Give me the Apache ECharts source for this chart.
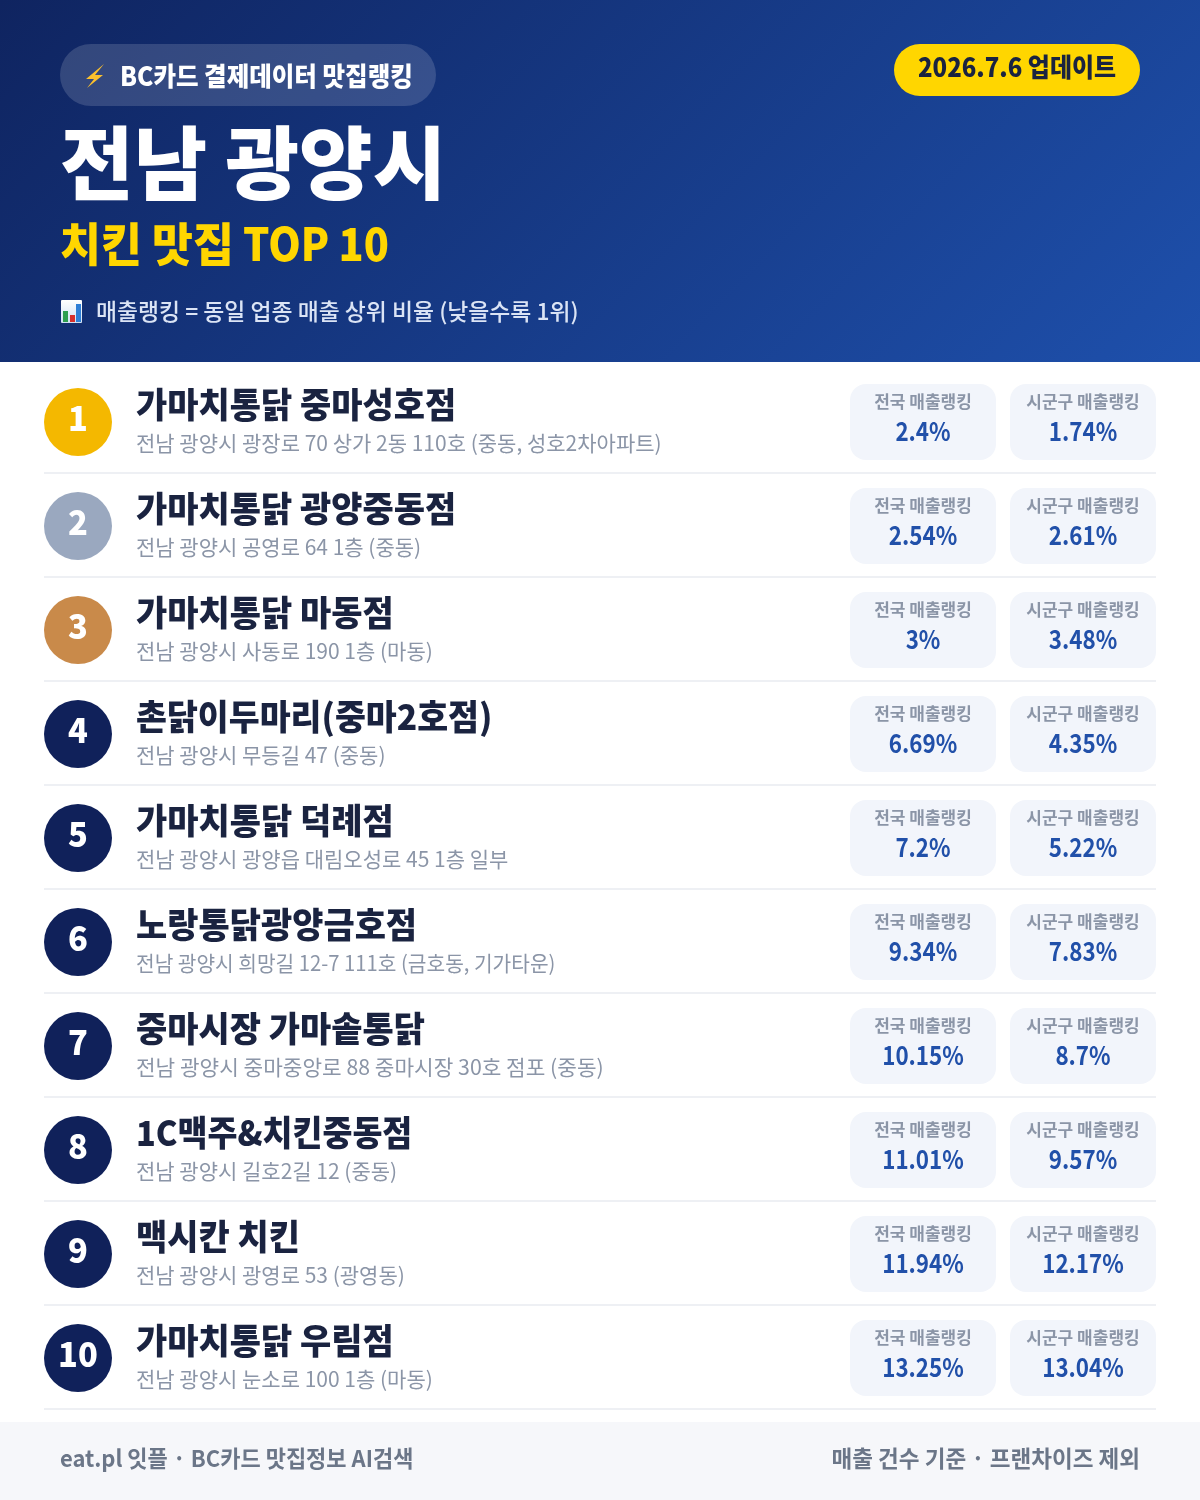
<!DOCTYPE html>
<html>
<head>
<meta charset="utf-8">
<style>html,body{margin:0;padding:0;background:#fff}#main{width:1200px;height:1500px}</style>
<script src="https://cdn.jsdelivr.net/npm/echarts@6/dist/echarts.min.js"></script>
</head>
<body>
<div id="main"></div>
<script>
const ranks = [1, 2, 3, 4, 5, 6, 7, 8, 9, 10];
const shopNames = ['가마치통닭 중마성호점', '가마치통닭 광양중동점', '가마치통닭 마동점', '촌닭이두마리(중마2호점)', '가마치통닭 덕례점', '노랑통닭광양금호점', '중마시장 가마솥통닭', '1C맥주&치킨중동점', '맥시칸 치킨', '가마치통닭 우림점'];
const addresses = ['전남 광양시 광장로 70 상가 2동 110호 (중동, 성호2차아파트)', '전남 광양시 공영로 64 1층 (중동)', '전남 광양시 사동로 190 1층 (마동)', '전남 광양시 무등길 47 (중동)', '전남 광양시 광양읍 대림오성로 45 1층 일부', '전남 광양시 희망길 12-7 111호 (금호동, 기가타운)', '전남 광양시 중마중앙로 88 중마시장 30호 점포 (중동)', '전남 광양시 길호2길 12 (중동)', '전남 광양시 광영로 53 (광영동)', '전남 광양시 눈소로 100 1층 (마동)'];
const nationalRank = [2.4, 2.54, 3, 6.69, 7.2, 9.34, 10.15, 11.01, 11.94, 13.25];
const localRank = [1.74, 2.61, 3.48, 4.35, 5.22, 7.83, 8.7, 9.57, 12.17, 13.04];
const medalColors = ['#f4b800', '#9aa8bf', '#c98a4a'];

const FONT = '"Noto Sans CJK KR", "Noto Sans", sans-serif';
const NAVY = '#10215a';

function txt(x, y, text, size, weight, fill, align, sx) {
    return {
        type: 'text', x: x, y: y, scaleX: sx || 1, silent: true,
        style: {
            x: 0, y: 0, text: text, fontSize: size, fontWeight: weight, fontFamily: FONT,
            fill: fill, align: align || 'left', verticalAlign: 'middle'
        }
    };
}

function rect(x, y, w, h, r, fill) {
    return { type: 'rect', silent: true, shape: { x: x, y: y, width: w, height: h, r: r }, style: { fill: fill } };
}

function nameFit(name) {
    // names starting with latin/digits run wider in this font
    return /^\d/.test(name) ? 0.93 : (name.indexOf('(') >= 0 ? 0.96 : 0.97);
}

function addressFit(i) {
    return i === 5 ? 0.965 : (i === 6 ? 1.015 : 1);
}

function renderRow(params, api) {
    let i = params.dataIndex;
    let cy = api.coord([0, i])[1];
    let px = (v) => api.coord([v, i])[0];
    let kids = [
        { type: 'circle', shape: { cx: px(78), cy: cy, r: 34 }, style: { fill: medalColors[i] || NAVY } },
        txt(px(78), cy - 4, String(ranks[i]), 34, 900, '#fff', 'center', 0.96),
        txt(px(136), cy - 17, shopNames[i], 35, 900, '#1a2340', 'left', nameFit(shopNames[i])),
        txt(px(136), cy + 21, addresses[i], 21, 400, '#8b95a7', 'left', addressFit(i)),
        rect(px(850), cy - 38, 146, 76, 16, '#f2f5fb'),
        txt(px(923), cy - 20, '전국 매출랭킹', 17, 700, '#8b95a7', 'center', 1),
        txt(px(923), cy + 9, nationalRank[i] + '%', 26, 700, '#2150a9', 'center', 0.86),
        rect(px(1010), cy - 38, 146, 76, 16, '#f2f5fb'),
        txt(px(1083), cy - 20, '시군구 매출랭킹', 17, 700, '#8b95a7', 'center', 1),
        txt(px(1083), cy + 9, localRank[i] + '%', 26, 700, '#2150a9', 'center', 0.86),
        rect(px(44), cy + 50, 1112, 2, 0, '#eef0f4')
    ];
    return { type: 'group', children: kids };
}

const header = [
    {
        type: 'rect', silent: true, shape: { x: 0, y: 0, width: 1200, height: 362 },
        style: {
            fill: new echarts.graphic.LinearGradient(209.5, -209.5, 990.5, 571.5, [
                { offset: 0, color: '#0f2460' },
                { offset: 1, color: '#1e50ac' }
            ], true)
        }
    },
    rect(60, 44, 376, 62, 31, 'rgba(255,255,255,0.15)'),
    {
        type: 'polygon', silent: true,
        shape: { points: [[104, 64], [86, 79], [94, 79], [87, 88], [103, 75], [95, 75]] },
        style: { fill: '#fbc02d' }
    },
    txt(120, 76, 'BC카드 결제데이터 맛집랭킹', 26, 900, '#fff', 'left', 0.943),
    rect(894, 44, 246, 52, 26, '#ffd600'),
    txt(1017, 67, '2026.7.6 업데이트', 26, 900, '#1a2340', 'center', 0.922),
    txt(60, 163, '전남 광양시', 80, 900, '#fff', 'left', 1.0),
    txt(60, 244, '치킨 맛집', 46, 900, '#ffd600', 'left', 0.967),
    txt(243, 244, 'TOP 10', 46, 900, '#ffd600', 'left', 0.9),
    {
        type: 'rect', silent: true, shape: { x: 61, y: 300, width: 21, height: 23, r: 1 },
        style: {
            fill: new echarts.graphic.LinearGradient(0, 0, 0, 1, [
                { offset: 0, color: '#ffffff' },
                { offset: 1, color: '#cfe0f4' }
            ])
        }
    },
    rect(63, 311, 5, 11, 0, '#2e9e4f'),
    rect(70, 315, 5, 7, 0, '#d8302c'),
    rect(76, 304, 5, 18, 0, '#2f7fd6'),
    txt(96, 311, '매출랭킹 = 동일 업종 매출 상위 비율 (낮을수록 1위)', 23, 500, '#dbe4f5', 'left', 0.993),
    rect(0, 1422, 1200, 78, 0, '#f6f7fa'),
    txt(60, 1458, 'eat.pl 잇플 · BC카드 맛집정보 AI검색', 23, 700, '#6b7688', 'left', 0.956),
    txt(1140, 1458, '매출 건수 기준 · 프랜차이즈 제외', 23, 700, '#6b7688', 'right', 0.98)
];

let chart = echarts.init(document.getElementById('main'), null, { renderer: 'canvas' });
chart.setOption({
    animation: false,
    backgroundColor: '#fff',
    graphic: { elements: header },
    grid: { left: 0, top: 370, width: 1200, height: 1040 },
    xAxis: { type: 'value', min: 0, max: 1200, show: false },
    yAxis: { type: 'category', inverse: true, data: ranks.map(String), show: false },
    series: [{
        type: 'custom',
        coordinateSystem: 'cartesian2d',
        renderItem: renderRow,
        clip: false,
        silent: true,
        encode: { x: 0, y: 1 },
        data: ranks.map((r, i) => [nationalRank[i], i, localRank[i]])
    }]
});
</script>
</body>
</html>
